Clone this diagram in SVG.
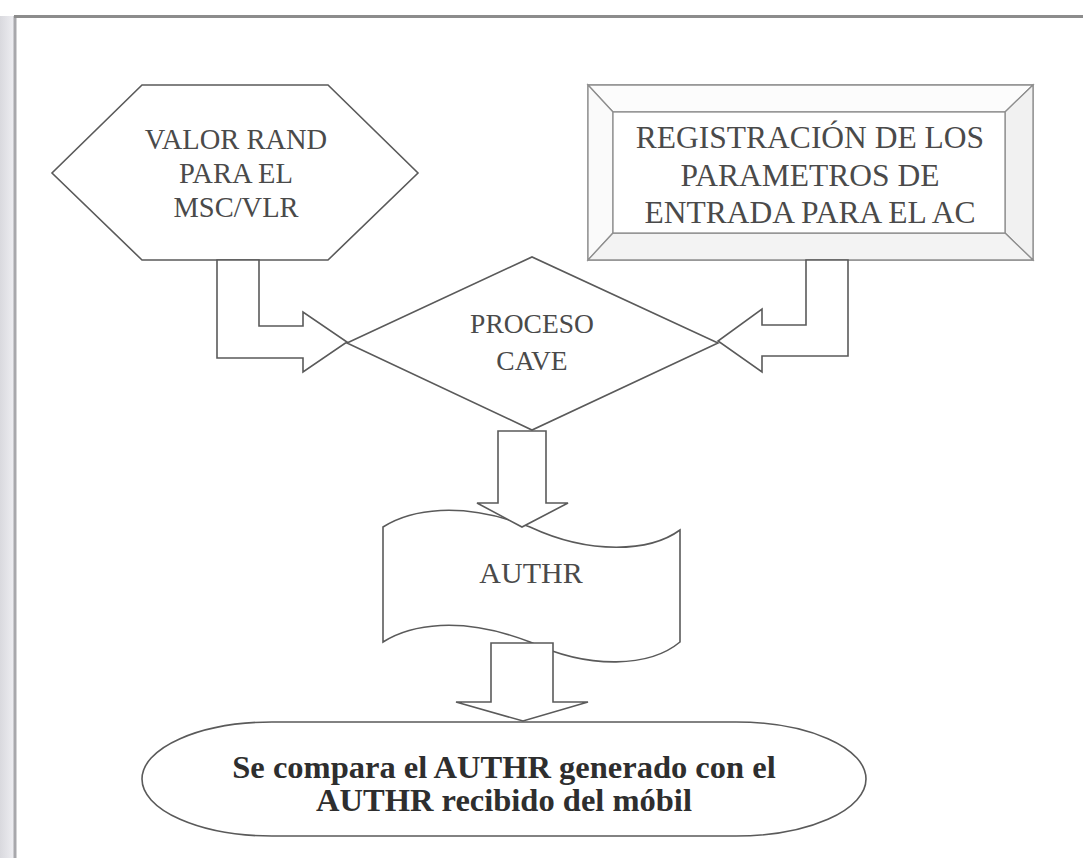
<svg xmlns="http://www.w3.org/2000/svg" width="1083" height="858" viewBox="0 0 1083 858">
  <defs>
    <linearGradient id="leftShade" x1="0" y1="0" x2="1" y2="0">
      <stop offset="0" stop-color="#d9d9de"/>
      <stop offset="1" stop-color="#eeeef2"/>
    </linearGradient>
  </defs>
  <style>
    .shape { fill: #ffffff; stroke: #5a5a5a; stroke-width: 1.6; stroke-linejoin: miter; }
    .bevel { stroke: #8e8e8e; stroke-width: 1.3; }
    .lbl { font-family: "Liberation Serif", "Times New Roman", serif; fill: #4a4a4a; text-anchor: middle; }
    .bold { font-family: "Liberation Serif", "Times New Roman", serif; fill: #2e2e2e; text-anchor: middle; font-weight: bold; }
    .conn { fill: #ffffff; stroke: #5a5a5a; stroke-width: 1.6; stroke-linejoin: miter; }
  </style>

  <rect x="0" y="0" width="1083" height="858" fill="#ffffff"/>
  <!-- page frame -->
  <g id="frame">
    <rect x="0" y="16" width="14" height="842" fill="url(#leftShade)"/>
    <line x1="15" y1="16" x2="15" y2="858" stroke="#a8a8ac" stroke-width="3"/>
    <line x1="14" y1="16.5" x2="1083" y2="16.5" stroke="#8c8c8c" stroke-width="3"/>
  </g>

  <g id="node-valor-rand">
    <polygon class="shape" points="142,85 328,85 418,173 328,260 142,260 52,173"/>
    <text class="lbl" font-size="28.5" x="236" y="149">VALOR RAND</text>
    <text class="lbl" font-size="28.5" x="236" y="183">PARA EL</text>
    <text class="lbl" font-size="28.5" x="236" y="217">MSC/VLR</text>
  </g>

  <g id="node-registracion">
    <rect x="588" y="85" width="445" height="175" fill="#fafafa" class="bevel"/>
    <polygon points="588,85 1033,85 1005,112 613,112" fill="#fcfcfc" class="bevel"/>
    <polygon points="588,85 613,112 613,233 588,260" fill="#fafafa" class="bevel"/>
    <polygon points="1033,85 1033,260 1005,233 1005,112" fill="#f1f1f1" class="bevel"/>
    <polygon points="588,260 1033,260 1005,233 613,233" fill="#f3f3f3" class="bevel"/>
    <rect x="613" y="112" width="392" height="121" fill="#ffffff" class="bevel"/>
    <text class="lbl" font-size="31.5" x="810" y="148">REGISTRACIÓN DE LOS</text>
    <text class="lbl" font-size="31.5" x="810" y="186">PARAMETROS DE</text>
    <text class="lbl" font-size="31.5" x="810" y="223">ENTRADA PARA EL AC</text>
  </g>

  <g id="node-proceso-cave">
    <polygon class="shape" points="347,343 532,257 718,343 532,430"/>
    <text class="lbl" font-size="27.5" x="532" y="333">PROCESO</text>
    <text class="lbl" font-size="27.5" x="532" y="370">CAVE</text>
  </g>

  <g id="node-authr">
    <path class="shape" d="M383,527 C410,510 460,500 530,527 C590,555 650,552 680,530 L680,642 C650,667 590,670 530,642 C460,615 410,625 383,642 Z"/>
    <text class="lbl" font-size="30" x="531" y="583">AUTHR</text>
  </g>

  <g id="node-compara">
    <rect class="shape" x="142" y="722" width="724" height="114" rx="130" ry="57"/>
    <text class="bold" font-size="32.5" x="504" y="778">Se compara el AUTHR generado con el</text>
    <text class="bold" font-size="32.5" x="504" y="811">AUTHR recibido del móbil</text>
  </g>

  <g id="connectors">
    <polygon class="conn" points="217,260 217,358 303,358 303,372 347,342 303,312 303,326 259,326 259,260"/>
    <polygon class="conn" points="848,260 848,356 762,356 762,372 718,341 762,309 762,325 806,325 806,260"/>
    <polygon class="conn" points="498,431 546,431 546,503 568,503 522,527 477,503 498,503"/>
    <polygon class="conn" points="491,643 553,643 553,702 588,702 523,721 456,702 491,702"/>
  </g>
</svg>
